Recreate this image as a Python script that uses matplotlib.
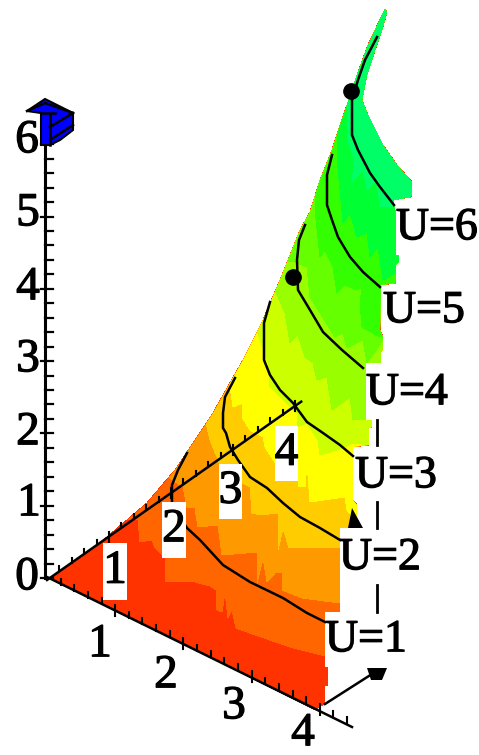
import numpy as np
import matplotlib
matplotlib.use("Agg")
import matplotlib.pyplot as plt
import matplotlib.patheffects as pe
from matplotlib.patches import Polygon, Rectangle

outline = [(52, 578), (100, 543), (147, 503), (175, 470), (193, 443), (213, 413), (243, 360), (263, 320),
           (280, 280), (290, 255), (300, 230), (310, 212), (320, 180), (332, 150), (340, 125), (347, 105),
           (357, 75), (368, 45), (385, 9), (387, 12), (382, 30), (375, 50), (372, 60), (367, 75), (365, 85),
           (362, 100), (368, 115), (373, 125), (383, 145), (397, 165), (412, 182), (411, 197), (393, 200),
           (396, 215), (396, 255), (399, 256), (399, 262), (396, 265), (396, 283), (381, 285), (380, 330),
           (383, 337), (383, 350), (381, 352), (381, 363), (366, 363), (366, 420), (372, 420), (372, 427),
           (369, 428), (369, 445), (353, 447), (353, 500), (357, 505), (357, 520), (350, 528), (340, 528),
           (340, 612), (325, 612), (325, 667), (328, 668), (328, 685), (325, 686), (325, 703), (315, 710)]

band_colors = ["#FF6600", "#FF9900", "#FFCC00", "#FFFF00", "#CCFF00", "#99FF00", "#66FF00", "#33FF00",
               "#00FF33", "#00FF66"]
base_color = "#FF3300"
band_edges = [
    [(138, 520), (140, 542), (152, 540), (155, 548), (165, 558), (165, 582), (195, 582), (210, 586), (216, 590),
     (217, 610), (222, 612), (225, 592), (228, 618), (232, 610), (236, 628), (247, 632), (290, 647), (325, 656)],
    [(170, 478), (183, 487), (187, 507), (195, 508), (198, 527), (218, 525), (222, 555), (257, 552), (257, 583),
     (263, 558), (267, 582), (275, 573), (282, 573), (282, 590), (302, 598), (340, 603)],
    [(205, 418), (210, 440), (217, 457), (225, 480), (242, 483), (250, 487), (252, 513), (260, 515), (278, 513),
     (278, 550), (283, 528), (289, 548), (340, 548)],
    [(230, 385), (233, 407), (243, 403), (242, 417), (250, 430), (263, 437), (265, 447), (280, 470), (298, 457),
     (298, 487), (305, 487), (307, 463), (310, 502), (345, 497), (347, 510), (357, 523)],
    [(255, 325), (268, 363), (270, 387), (297, 413), (297, 427), (307, 423), (318, 440), (320, 455), (337, 450),
     (353, 443), (369, 445)],
    [(275, 290), (285, 313), (290, 343), (298, 335), (305, 357), (313, 363), (317, 380), (327, 377), (332, 410),
     (350, 397), (353, 420), (372, 420)],
    [(295, 262), (307, 267), (310, 297), (335, 337), (343, 333), (347, 348), (363, 340), (367, 363), (383, 340)],
    [(315, 195), (315, 210), (320, 257), (325, 250), (333, 267), (337, 293), (345, 285), (357, 290), (362, 287),
     (360, 303), (362, 327), (380, 337), (385, 337)],
    [(337, 130), (337, 157), (343, 223), (350, 213), (357, 237), (367, 233), (370, 257), (378, 247), (383, 280),
     (400, 270)],
    [(355, 75), (347, 103), (348, 140), (355, 160), (352, 182), (363, 170), (367, 190), (377, 180), (380, 207),
     (397, 207)],
]

level_curves = [
    [(187, 453), (178, 470), (172, 485), (172, 505), (187, 528), (200, 540), (223, 565), (250, 582), (283, 598),
     (307, 613), (325, 622)],
    [(235, 378), (225, 397), (223, 413), (223, 428), (226, 433), (230, 447), (238, 460), (250, 477), (267, 488),
     (283, 503), (300, 517), (320, 528), (340, 540)],
    [(270, 302), (264, 323), (264, 360), (270, 375), (280, 390), (293, 403), (307, 422), (323, 433), (340, 445),
     (353, 456)],
    [(305, 225), (299, 240), (297, 260), (298, 290), (310, 310), (323, 332), (342, 350), (363, 368)],
    [(332, 155), (327, 175), (327, 205), (332, 220), (338, 237), (350, 257), (363, 272), (380, 287)],
    [(377, 37), (365, 60), (358, 80), (352, 100), (352, 135), (358, 150), (370, 173), (380, 187), (394, 205)],
]
level_names = ["U=1", "U=2", "U=3", "U=4", "U=5", "U=6"]
level_label_pos = [(366, 640), (380, 558), (396, 476), (407, 393), (424, 311), (437, 228)]
level_dots = [(351, 91), (293, 277)]

z_ticks = [0, 1, 2, 3, 4, 5, 6]
z_label_pos = [(27, 578), (29, 504), (28, 433), (28, 360), (28, 288), (28, 214), (27, 141)]
x_ticks = [1, 2, 3, 4]
x_label_pos = [(100, 645), (166, 676), (234, 707), (303, 734)]
y_ticks = [1, 2, 3, 4]
y_boxes = [(103, 543, 24, 57), (162, 502, 24, 56), (219, 464, 23, 55), (275, 426, 23, 55)]

dash_bits = [(420, 445), (502, 528), (585, 612)]
blue_head = [(45, 99), (27, 111), (41, 113), (41, 145), (50, 145), (60, 140), (73, 130), (73, 113)]
head_lines = [[(27, 111), (45, 103), (73, 113)], [(50, 115), (50, 145)], [(50, 127), (73, 113)],
              [(50, 140), (73, 125)], [(41, 113), (55, 113)]]
small_head = [(352, 508), (363, 528), (348, 528)]
right_head = [(367, 668), (387, 668), (382, 680), (371, 680)]

plt.rcParams["font.family"] = ["Liberation Serif", "DejaVu Serif"]
fig = plt.figure(figsize=(4.79, 7.55), dpi=100)
ax = fig.add_axes([0, 0, 1, 1])
ax.set_xlim(0, 479)
ax.set_ylim(755, 0)
ax.axis("off")

heavy = [pe.withStroke(linewidth=0.9, foreground="black")]

def label(x, y, s, size=34):
    ax.text(x, y, s, fontsize=size, ha="center", va="center", zorder=30, path_effects=heavy)

# colored surface: each band paints everything above its lower edge, clipped to the outline
clip = Polygon(outline, closed=True, transform=ax.transData, fc="none", ec="none")
ax.add_patch(clip)
base = Polygon(outline, closed=True, fc=base_color, ec="none", antialiased=False, zorder=1)
ax.add_patch(base)
for i, edge in enumerate(band_edges):
    pts = [(0, edge[0][1]), (0, 0), (479, 0), (479, edge[-1][1])] + edge[::-1]
    p = Polygon(pts, closed=True, fc=band_colors[i], ec="none", antialiased=False, zorder=2 + i)
    ax.add_patch(p)
    p.set_clip_path(clip)

LW = 1.8
for curve in level_curves:
    c = np.array(curve)
    ax.plot(c[:, 0], c[:, 1], color="black", lw=LW, zorder=20)
for d in level_dots:
    ax.plot(d[0], d[1], "o", color="black", ms=11, zorder=21)

# z axis
ax.plot([45, 45], [578, 112], color="black", lw=2.2, zorder=22)
z_unit = 72.3
for v in np.arange(0, 32) / 5:
    yy = 578 - v * z_unit
    if abs(v * 5 % 5) < 1e-6:
        ax.plot([41, 53], [yy, yy], color="black", lw=1.6, zorder=22)
    else:
        ax.plot([45, 53], [yy, yy], color="black", lw=1.6, zorder=22)
for v, pos in zip(z_ticks, z_label_pos):
    label(pos[0], pos[1], str(v))

# bottom axis, going towards the lower right
x0 = np.array([47, 577])
x_unit = np.array([68.2, 33])
ax.plot([x0[0], 352], [x0[1], 727], color="black", lw=LW, zorder=22)
for v in np.arange(1, 23) / 5:
    pt = x0 + v * x_unit
    lo = 6 if abs(v * 5 % 5) < 1e-6 else 1
    ax.plot([pt[0], pt[0]], [pt[1] - 5, pt[1] + lo], color="black", lw=1.5, zorder=22)
for v, pos in zip(x_ticks, x_label_pos):
    label(pos[0], pos[1], str(v))

# axis along the left edge of the surface
y0 = np.array([47, 580])
y_unit = np.array([62, -43.5])
end = y0 + 4.1 * y_unit
ax.plot([y0[0], end[0]], [y0[1], end[1]], color="black", lw=LW, zorder=22)
for v in np.arange(1, 21) / 5:
    pt = y0 + v * y_unit
    lo = 5 if abs(v * 5 % 5) < 1e-6 else 0
    ax.plot([pt[0], pt[0]], [pt[1] - 5, pt[1] + lo], color="black", lw=1.5, zorder=22)

# white boxes with the tick numbers of that axis
for v, b in zip(y_ticks, y_boxes):
    ax.add_patch(Rectangle((b[0], b[1]), b[2], b[3], fc="white", ec="none", zorder=25))
    label(b[0] + b[2] / 2, b[1] + b[3] / 2, str(v))

# third axis, mostly hidden behind the U labels
for a, b in dash_bits:
    ax.plot([377, 377], [a, b], color="black", lw=2.0, zorder=22)
ax.add_patch(Polygon(small_head, closed=True, fc="black", ec="none", zorder=22))
ax.plot([325, 372], [704, 674], color="black", lw=LW, zorder=22)
ax.add_patch(Polygon(right_head, closed=True, fc="black", ec="none", zorder=22))

# blue arrow head on the z axis
ax.add_patch(Polygon(blue_head, closed=True, fc="#0000FF", ec="black", lw=1.5, zorder=23))
for seg in head_lines:
    s = np.array(seg)
    ax.plot(s[:, 0], s[:, 1], color="black", lw=1.8, zorder=24)

for name, pos in zip(level_names, level_label_pos):
    label(pos[0], pos[1], name, size=33)

fig.savefig("out.png", dpi=100)
